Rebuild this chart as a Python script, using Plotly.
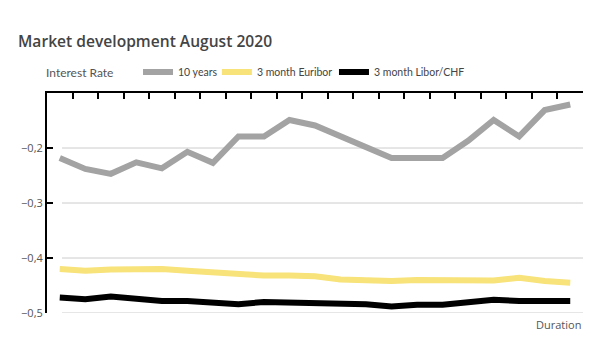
import plotly.graph_objects as go

days = ["03.08", "04.08", "05.08", "06.08", "07.08", "10.08", "11.08", "12.08", "13.08", "14.08",
        "17.08", "18.08", "19.08", "20.08", "21.08", "24.08", "25.08", "26.08", "27.08", "28.08", "31.08"]
ten_years = [-0.218, -0.238, -0.247, -0.226, -0.237, -0.207, -0.227, -0.179, -0.179, -0.149,
             -0.159, -0.179, -0.198, -0.218, -0.218, -0.218, -0.187, -0.149, -0.179, -0.131, -0.121]
euribor = [-0.420, -0.423, -0.421, -0.420, -0.420, -0.423, -0.426, -0.428, -0.432, -0.432,
           -0.433, -0.439, -0.441, -0.442, -0.440, -0.441, -0.442, -0.441, -0.436, -0.442, -0.445]
libor_chf = [-0.472, -0.475, -0.470, -0.475, -0.478, -0.478, -0.481, -0.484, -0.480, -0.481,
             -0.480, -0.481, -0.484, -0.488, -0.485, -0.485, -0.481, -0.476, -0.478, -0.478, -0.478]
y_ticks = [-0.5, -0.4, -0.3, -0.2]
y_range = [-0.5, -0.1]

series = [
    ("10 years", ten_years, "#a3a3a3", "legend", 0.1698),
    ("3 month Euribor", euribor, "#f7e37a", "legend2", 0.317),
    ("3 month Libor/CHF", libor_chf, "#000000", "legend3", 0.5354),
]

fig = go.Figure()
for name, vals, col, leg, _ in series:
    fig.add_trace(go.Scatter(x=days, y=vals, name=name, mode="lines", legend=leg,
                             line=dict(color=col, width=6)))

# page body has an 8px default margin, so the figure is 592x353 placed at (8,8)
W, H = 592, 353
L, T, R, B = 39, 85, 17, 48

shapes = [dict(type="line", xref="paper", yref="y", x0=0.028, x1=1.0, y0=v, y1=v,
               line=dict(color="#cccccc", width=1), layer="below") for v in y_ticks]

legends = {}
for name, vals, col, leg, lx in series:
    legends[leg] = dict(orientation="h", x=lx, xanchor="left", y=1.095, yanchor="middle",
                        font=dict(family="Lato", size=10.5, color="#444444"), itemwidth=30,
                        tracegroupgap=0, bgcolor="rgba(0,0,0,0)")

fig.update_layout(
    width=W, height=H,
    margin=dict(l=L, r=R, t=T, b=B, autoexpand=False),
    paper_bgcolor="white", plot_bgcolor="white",
    separators=",.",
    font=dict(family="Open Sans", color="#555555", size=11),
    title=dict(text="Market development August 2020", x=10 / W, xanchor="left",
               y=1 - 34 / H, yanchor="middle",
               font=dict(family="Open Sans", size=15.6, color="#444444", weight=600)),
    showlegend=True,
    xaxis=dict(type="category", side="top", showline=True, linecolor="black", linewidth=2,
               mirror=False, ticks="inside", tickson="boundaries", ticklen=6, tickwidth=1.5,
               tickcolor="black", showticklabels=False, showgrid=False, zeroline=False,
               range=[-0.5, len(days) - 0.5]),
    yaxis=dict(range=y_range, tickvals=y_ticks, tickformat=".1f", showline=True,
               linecolor="black", linewidth=2, ticks="inside", ticklen=6, tickwidth=1.5,
               tickcolor="black", showgrid=False, zeroline=False,
               tickfont=dict(size=11, color="#555555")),
    shapes=shapes,
    annotations=[
        dict(text="Interest Rate", xref="paper", yref="paper", x=-0.006, y=1.095,
             xanchor="left", yanchor="middle", showarrow=False,
             font=dict(family="Lato", size=12, color="#555555")),
        dict(text="Duration", xref="paper", yref="paper", x=1.0, y=-0.05,
             xanchor="right", yanchor="middle", showarrow=False,
             font=dict(size=11, color="#555555")),
    ],
    **legends,
)

fig.write_html("out.html")
